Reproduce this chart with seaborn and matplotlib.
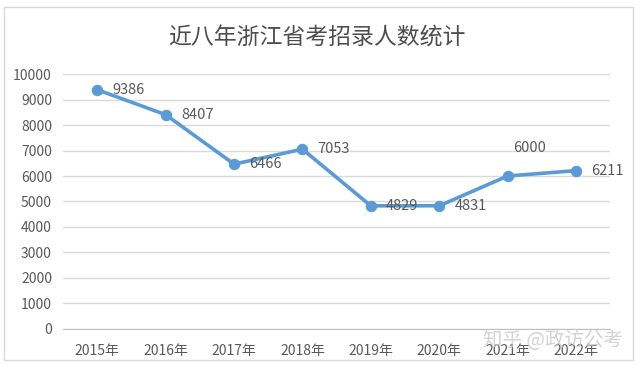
import numpy as np
import matplotlib
matplotlib.use("Agg")
import matplotlib.pyplot as plt
import seaborn as sns
from matplotlib.patches import Rectangle

# data
years = ["2015年", "2016年", "2017年", "2018年", "2019年", "2020年", "2021年", "2022年"]
recruits = [9386, 8407, 6466, 7053, 4829, 4831, 6000, 6211]
y_ticks = [0, 1000, 2000, 3000, 4000, 5000, 6000, 7000, 8000, 9000, 10000]

sns.set_style("white")
plt.rcParams["font.family"] = ["Noto Sans CJK SC", "DejaVu Sans"]

line_color = "#5B9BD5"
text_color = "#595959"
grid_color = "#D9D9D9"

fig = plt.figure(figsize=(6.37, 3.65), dpi=100)
ax = fig.add_axes([0.099, 0.099, 0.859, 0.698])

# outer chart border
fig.patches.append(Rectangle((0.007, 0.014), 0.986, 0.968, transform=fig.transFigure,
                             fill=False, edgecolor="#D9D9D9", linewidth=1.0))

idx = np.arange(len(years))
sns.lineplot(x=idx, y=recruits, ax=ax, color=line_color, linewidth=2.6,
             marker="o", markersize=7.5, markeredgecolor=line_color)

# data labels
for i, v in zip(idx, recruits):
    if v == 6000:
        ax.annotate(str(v), (i, v), xytext=(16, 15), textcoords="offset points",
                    ha="center", va="bottom", fontsize=10.5, color=text_color)
    else:
        ax.annotate(str(v), (i, v), xytext=(11, 0), textcoords="offset points",
                    ha="left", va="center", fontsize=10.5, color=text_color)

ax.set_xlim(-0.5, len(years) - 0.5)
ax.set_ylim(0, 10000)
ax.set_xticks(idx)
ax.set_xticklabels(years)
ax.set_yticks(y_ticks)
ax.set_yticklabels([str(t) for t in y_ticks])
ax.tick_params(axis="both", length=0, labelsize=10, labelcolor=text_color)
ax.tick_params(axis="x", pad=11)
ax.tick_params(axis="y", pad=8)
ax.grid(axis="y", color=grid_color, linewidth=1.0)
ax.set_axisbelow(True)
for side in ["top", "right", "left"]:
    ax.spines[side].set_visible(False)
ax.spines["bottom"].set_color("#BFBFBF")
ax.set_xlabel("")
ax.set_ylabel("")

fig.text(0.497, 0.896, "近八年浙江省考招录人数统计", ha="center", va="center",
         fontsize=16.5, color="#4D4D4D")

# watermark
fig.text(0.978, 0.066, "知乎 @政访公考", ha="right", va="center",
         fontsize=14, color="#C8C8C8", alpha=0.8)

fig.savefig("out.png", dpi=100)
